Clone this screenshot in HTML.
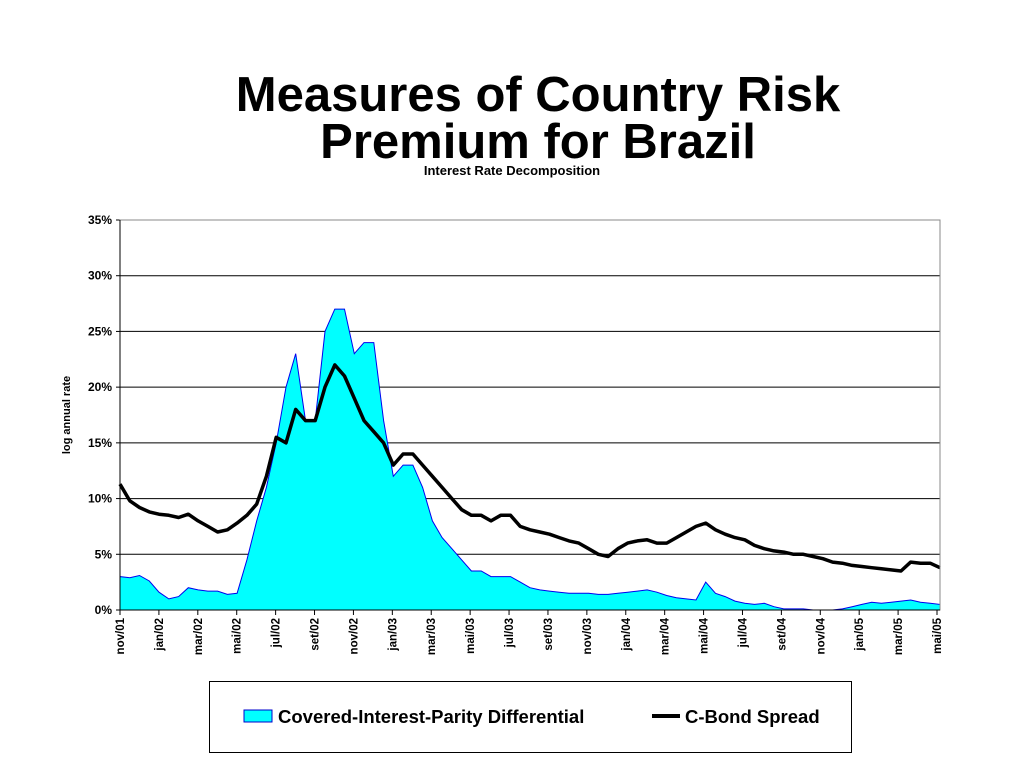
<!DOCTYPE html>
<html><head><meta charset="utf-8"><style>
body{margin:0;background:#fff;width:1024px;height:768px;overflow:hidden;font-family:"Liberation Sans",sans-serif}
</style></head><body>
<svg width="1024" height="768" style="position:absolute;left:0;top:0">
<text x="538" y="111" text-anchor="middle" font-size="49" font-weight="bold">Measures of Country Risk</text>
<text x="538" y="158" text-anchor="middle" font-size="49" font-weight="bold">Premium for Brazil</text>
<text x="512" y="175" text-anchor="middle" font-size="13" font-weight="bold">Interest Rate Decomposition</text>
<text transform="translate(70,415) rotate(-90)" text-anchor="middle" font-size="11" font-weight="bold">log annual rate</text>
<g id="grid"></g>
<g id="marks"></g>
<g id="axes"></g>
<rect x="209.5" y="681.5" width="642" height="71" fill="#fff" stroke="#000"/>
<rect x="244" y="710" width="28" height="12" fill="#00ffff" stroke="#0000cc"/>
<text x="278" y="723" font-size="18.5" font-weight="bold">Covered-Interest-Parity Differential</text>
<line x1="652" y1="716" x2="680" y2="716" stroke="#000" stroke-width="4"/>
<text x="685" y="723" font-size="18.5" font-weight="bold">C-Bond Spread</text>
</svg>
<script>
const yTicks=[0,5,10,15,20,25,30,35];
const xLabels=["nov/01","jan/02","mar/02","mai/02","jul/02","set/02","nov/02","jan/03","mar/03","mai/03","jul/03","set/03","nov/03","jan/04","mar/04","mai/04","jul/04","set/04","nov/04","jan/05","mar/05","mai/05"];
const cip=[3.0,2.9,3.1,2.6,1.6,1.0,1.2,2.0,1.8,1.7,1.7,1.4,1.5,4.5,8,11,15,20,23,17,17,25,27,27,23,24,24,17,12,13,13,11,8,6.5,5.5,4.5,3.5,3.5,3,3,3,2.5,2,1.8,1.7,1.6,1.5,1.5,1.5,1.4,1.4,1.5,1.6,1.7,1.8,1.6,1.3,1.1,1.0,0.9,2.5,1.5,1.2,0.8,0.6,0.5,0.6,0.3,0.1,0.1,0.1,0,0,0,0.1,0.3,0.5,0.7,0.6,0.7,0.8,0.9,0.7,0.6,0.5];
const cbond=[11.3,9.8,9.2,8.8,8.6,8.5,8.3,8.6,8.0,7.5,7.0,7.2,7.8,8.5,9.5,12,15.5,15,18,17,17,20,22,21,19,17,16,15,13,14,14,13,12,11,10,9,8.5,8.5,8,8.5,8.5,7.5,7.2,7,6.8,6.5,6.2,6,5.5,5,4.8,5.5,6,6.2,6.3,6,6,6.5,7,7.5,7.8,7.2,6.8,6.5,6.3,5.8,5.5,5.3,5.2,5.0,5.0,4.8,4.6,4.3,4.2,4.0,3.9,3.8,3.7,3.6,3.5,4.3,4.2,4.2,3.8];
const X0=120,X1=940,Y0=610,Y1=220;
const ys=v=>Y0-(v/35)*(Y0-Y1);
const xs=i=>X0+i*(X1-X0)/(cip.length-1);
const NS="http://www.w3.org/2000/svg";
function mk(t,a,p){const e=document.createElementNS(NS,t);for(const k in a)e.setAttribute(k,a[k]);document.getElementById(p).appendChild(e);return e;}
yTicks.forEach(v=>{
 if(v>0){const g=mk('line',{x1:X0,x2:X1,y1:ys(v),y2:ys(v),stroke:'#000','stroke-width':1},'grid');
 
 }
 const t=mk('text',{x:X0-8,y:ys(v)+4,'text-anchor':'end','font-size':12,'font-weight':'bold'},'axes');t.textContent=v+'%';
 
 
 mk('line',{x1:X0-4,x2:X0,y1:ys(v),y2:ys(v),stroke:'#000'},'axes');
});
let d='M'+X0+','+Y0;cip.forEach((v,i)=>d+=' L'+xs(i).toFixed(1)+','+ys(v).toFixed(1));d+=' L'+X1+','+Y0+' Z';
const a=mk('path',{d:d,fill:'#00ffff',stroke:'#0000ee','stroke-width':1},'marks');


let l='';cbond.forEach((v,i)=>l+=(i?' L':'M')+xs(i).toFixed(1)+','+ys(v).toFixed(1));
const ln=mk('path',{d:l,fill:'none',stroke:'#000','stroke-width':3.5,'stroke-linejoin':'round'},'marks');


mk('rect',{x:X0,y:Y1,width:X1-X0,height:Y0-Y1,fill:'none',stroke:'#888'},'axes');
mk('line',{x1:X0,x2:X0,y1:Y1,y2:Y0,stroke:'#000'},'axes');
mk('line',{x1:X0,x2:X1,y1:Y0,y2:Y0,stroke:'#000'},'axes');
xLabels.forEach((s,i)=>{
 const x=X0+i*(X1-X0-3)/(xLabels.length-1);
 mk('line',{x1:x,x2:x,y1:Y0,y2:Y0+5,stroke:'#000'},'axes');
 const t=mk('text',{transform:`translate(${x+4},${Y0+8}) rotate(-90)`,'text-anchor':'end','font-size':11.5,'font-weight':'bold'},'axes');
 t.textContent=s;
 
 
});
</script>
</body></html>
